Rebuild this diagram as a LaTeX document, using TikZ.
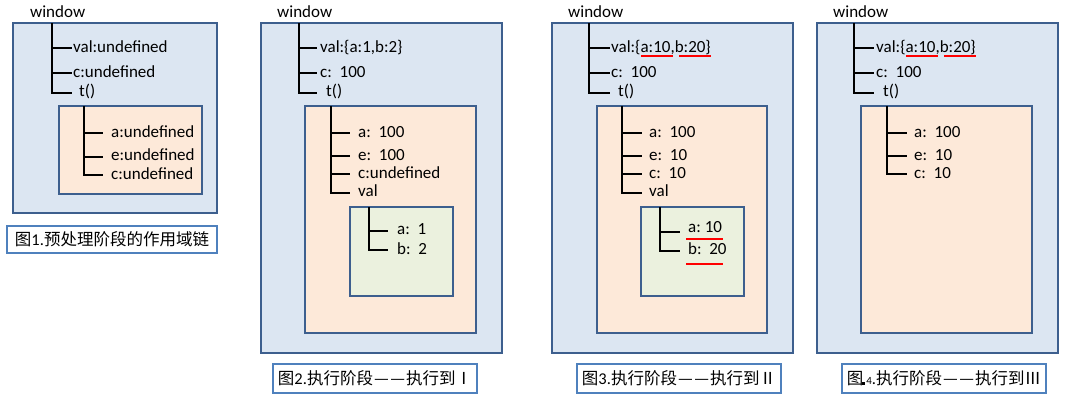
\documentclass[tikz,border=0pt]{standalone}
\usepackage{fontspec}
\setmainfont{Carlito}
\newfontfamily\cjk{Noto Sans CJK SC}
\definecolor{outerfill}{HTML}{DCE6F2}
\definecolor{outerline}{HTML}{3D5F8E}
\definecolor{innerfill}{HTML}{FDE9D9}
\definecolor{greenfill}{HTML}{EBF1DE}
\definecolor{capline}{HTML}{4F81BD}
\definecolor{uline}{HTML}{FF0000}
\newcommand{\ddash}{\kern1pt—\kern1.5pt—\kern1pt}
\tikzset{
  outerbox/.style={draw=outerline, fill=outerfill, line width=2.4pt},
  innerbox/.style={draw=outerline, fill=innerfill, line width=2.4pt},
  greenbox/.style={draw=outerline, fill=greenfill, line width=2.4pt},
  tree/.style={draw=black, line width=2pt},
  txt/.style={anchor=west, inner sep=0pt, font=\fontsize{17}{19}\selectfont, text height=11pt, text depth=3pt},
  capbox/.style={draw=capline, fill=white, line width=2.2pt, inner sep=0pt, font=\fontsize{16.5}{19}\selectfont},
  redline/.style={draw=uline, line width=1.8pt},
}
\begin{document}
\begin{tikzpicture}[x=1pt,y=-1pt]
\useasboundingbox (0,0) rectangle (1086,407);
\fill[white] (0,0) rectangle (1086,407);

% ---------------- Panel 1 ----------------
\node[txt] (w1) at (30,13) {window};
\draw[outerbox] (13,23) rectangle (217,213);
\node[txt] (p1val) at (73,48) {val:undefined};
\node[txt] (p1c) at (73,73) {c:undefined};
\node[txt] (p1t) at (79,92) {t()};
\draw[tree] (52,23) -- (52,93) -- (72,93);
\draw[tree] (52,48) -- (72,48);
\draw[tree] (52,73) -- (72,73);
\draw[innerbox] (59,106) rectangle (202,194);
\node[txt] (p1a) at (111,133) {a:undefined};
\node[txt] (p1e) at (111,156) {e:undefined};
\node[txt] (p1cc) at (111,175) {c:undefined};
\draw[tree] (84,106) -- (84,175) -- (103,175);
\draw[tree] (84,133) -- (103,133);
\draw[tree] (84,157) -- (103,157);
\node[capbox, minimum width=210pt, minimum height=27pt] (cap1) at (112,239.5)
  {{\cjk 图}1.{\cjk 预处理阶段的作用域链}};

% ---------------- Panel 2 ----------------
\node[txt] (w2) at (277,13) {window};
\draw[outerbox] (261,23) rectangle (502,353);
\node[txt] (p2val) at (320,48) {val:\{a:1,b:2\}};
\node[txt] (p2c) at (320,73) {c:\ \ 100};
\node[txt] (p2t) at (326,92) {t()};
\draw[tree] (299,23) -- (299,93) -- (317,93);
\draw[tree] (299,48) -- (317,48);
\draw[tree] (299,73) -- (317,73);
\draw[innerbox] (305,106) rectangle (476,333);
\node[txt] (p2a) at (358,133) {a:\ \ 100};
\node[txt] (p2e) at (358,156) {e:\ \ 100};
\node[txt] (p2cc) at (358,174) {c:undefined};
\node[txt] (p2v) at (358,192) {val};
\draw[tree] (331,106) -- (331,193) -- (350,193);
\draw[tree] (331,133) -- (350,133);
\draw[tree] (331,156) -- (350,156);
\draw[tree] (331,174) -- (350,174);
\draw[greenbox] (350,207) rectangle (453,296);
\node[txt] (p2ga) at (397,230) {a:\ \ 1};
\node[txt] (p2gb) at (397,250) {b:\ \ 2};
\draw[tree] (369,207) -- (369,250) -- (388,250);
\draw[tree] (369,231) -- (388,231);
\node[capbox, minimum width=204pt, minimum height=29pt] (cap2) at (375,378.5)
  {{\cjk 图}2.{\cjk 执行阶段\ddash 执行到Ⅰ}};

% ---------------- Panel 3 ----------------
\node[txt] (w3) at (568,13) {window};
\draw[outerbox] (552,23) rectangle (793,353);
\node[txt] (p3val) at (611,48) {val:\{a:10,b:20\}};
\node[txt] (p3c) at (611,73) {c:\ \ 100};
\node[txt] (p3t) at (618,92) {t()};
\draw[tree] (589,23) -- (589,93) -- (610,93);
\draw[tree] (589,48) -- (610,48);
\draw[tree] (589,73) -- (610,73);
\draw[redline] (641,56) -- (673,56);
\draw[redline] (679,56) -- (711,56);
\draw[innerbox] (597,106) rectangle (767,333);
\node[txt] (p3a) at (649,133) {a:\ \ 100};
\node[txt] (p3e) at (649,156) {e:\ \ 10};
\node[txt] (p3cc) at (649,174) {c:\ \ 10};
\node[txt] (p3v) at (649,192) {val};
\draw[tree] (622,106) -- (622,193) -- (642,193);
\draw[tree] (622,133) -- (642,133);
\draw[tree] (622,156) -- (642,156);
\draw[tree] (622,174) -- (642,174);
\draw[greenbox] (641,207) rectangle (744,296);
\node[txt] (p3ga) at (688,228) {a:\ 10};
\node[txt] (p3gb) at (688,250) {b:\ \ 20};
\draw[tree] (660,207) -- (660,251) -- (680,251);
\draw[tree] (660,232) -- (680,232);
\draw[redline, line width=2.2pt] (686,239) -- (723,239);
\draw[redline, line width=2.2pt] (686,264) -- (723,264);
\node[capbox, minimum width=204pt, minimum height=29pt] (cap3) at (679,378.5)
  {{\cjk 图}3.{\cjk 执行阶段\ddash 执行到Ⅱ}};

% ---------------- Panel 4 ----------------
\node[txt] (w4) at (833,13) {window};
\draw[outerbox] (817,23) rectangle (1058,353);
\node[txt] (p4val) at (876,48) {val:\{a:10,b:20\}};
\node[txt] (p4c) at (876,73) {c:\ \ 100};
\node[txt] (p4t) at (883,92) {t()};
\draw[tree] (854,23) -- (854,93) -- (874,93);
\draw[tree] (854,48) -- (874,48);
\draw[tree] (854,73) -- (874,73);
\draw[redline] (906,56) -- (938,56);
\draw[redline] (944,56) -- (976,56);
\draw[innerbox] (861,106) rectangle (1032,333);
\node[txt] (p4a) at (914,133) {a:\ \ 100};
\node[txt] (p4e) at (914,156) {e:\ \ 10};
\node[txt] (p4cc) at (914,174) {c:\ \ 10};
\draw[tree] (887,106) -- (887,174) -- (907,174);
\draw[tree] (887,133) -- (907,133);
\draw[tree] (887,156) -- (907,156);
\node[capbox, minimum width=204pt, minimum height=29pt] (cap4) at (944,378.5)
  {{\cjk 图}\kern-1pt\rule{3pt}{3pt}\kern1pt{\fontsize{11}{11}\selectfont 4}.{\cjk 执行阶段\ddash 执行到Ⅲ}};
\end{tikzpicture}
\end{document}
